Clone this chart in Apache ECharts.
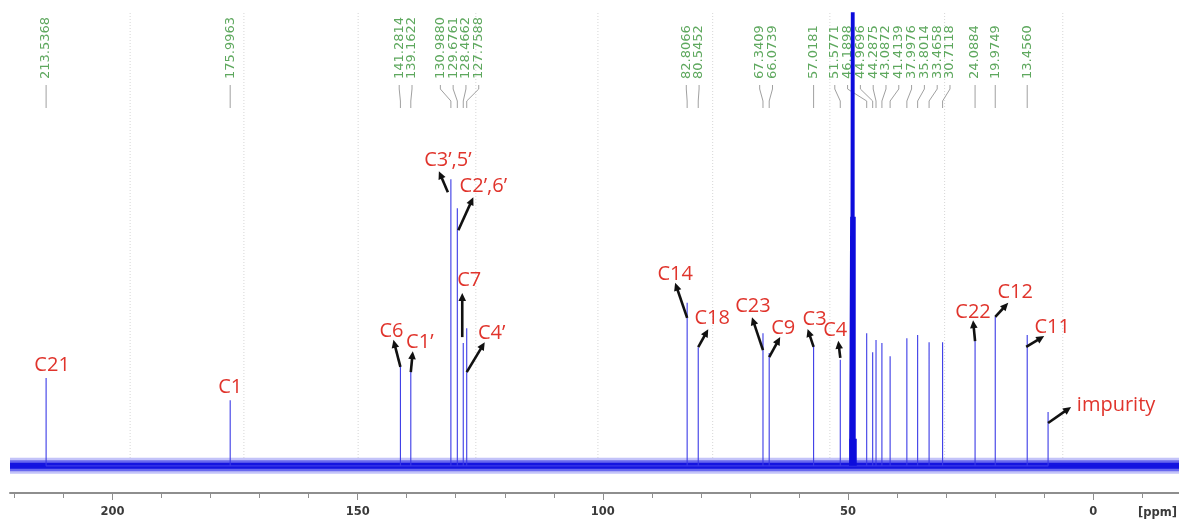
<!DOCTYPE html>
<html><head><meta charset="utf-8">
<script src="https://cdn.jsdelivr.net/npm/echarts@6/dist/echarts.min.js"></script>
<style>html,body{margin:0;padding:0;background:#fff}#c{width:1179px;height:524px}</style>
</head><body><div id="c"></div>
<script>
// ---------------- data ----------------
const peakPpm = [213.5368, 175.9963, 141.2814, 139.1622, 130.9880, 129.6761, 128.4662, 127.7588,
  82.8066, 80.5452, 67.3409, 66.0739, 57.0181, 51.5771, 46.1898, 44.9696, 44.2875, 43.0872,
  41.4139, 37.9976, 35.8014, 33.4658, 30.7118, 24.0884, 19.9749, 13.4560];
const peakHeight = [19.4, 14.5, 22.3, 20.9, 63.3, 56.9, 27.1, 30.4,
  36.0, 26.2, 29.3, 24.9, 26.7, 23.4, 29.3, 25.1, 27.8, 27.1,
  24.2, 28.2, 28.9, 27.3, 27.3, 28.2, 32.9, 28.9];
const impurityPpm = [9.2];
const impurityHeight = [11.9];
const solventPpm = [49.64, 49.43, 49.21, 49.00, 48.79, 48.57, 48.36];
const solventHeight = [6, 55, 150, 150, 150, 55, 6];
const annotationText = ['C21', 'C1', 'C6', 'C1’', 'C3’,5’', 'C2’,6’', 'C7', 'C4’', 'C14', 'C18',
  'C23', 'C9', 'C3', 'C4', 'C22', 'C12', 'C11', 'impurity'];
const annotationPpm = [213.5368, 175.9963, 141.2814, 139.1622, 130.9880, 129.6761, 128.4662, 127.7588,
  82.8066, 80.5452, 67.3409, 66.0739, 57.0181, 51.5771, 24.0884, 19.9749, 13.4560, 9.2];
const majorTicks = [200, 150, 100, 50, 0];
const minorTicks = [220, 210, 190, 180, 170, 160, 140, 130, 120, 110, 90, 80, 70, 60, 40, 30, 20, 10, -10];
const gridPpm = [196.4, 173.2, 149.9, 125.9, 101.0, 77.6, 53.7, 30.3, 6.2];
const xRange = [-17.5, 220.9];
const yRange = [-6, 100];

// ---------------- layout ----------------
const GRID = {left: 10, right: 0, top: 13, bottom: 31};
const W = 1179;
const pxPerPpm = (W - GRID.left - GRID.right) / (xRange[1] - xRange[0]);
const LABEL_GAP = 12.8;
// [textDx, textDy, tailDx, tailDy, headDx, headDy] relative to the peak top (px)
const annotationLayout = [
  [6, -13], [0, -13],
  [-9, -34, 0, 2, -7, -25],
  [9, -29, 0, 1, 2, -20],
  [-3, -19, -3, 13, -12, -8],
  [26, -22, 1, 22, 16, -11],
  [6, -63, -1, -6, -1, -50],
  [25, 5, 0, 44, 18, 14],
  [-12, -29, 0, 15, -12, -20],
  [14, -29, 0, 0, 10, -18],
  [-10, -27, 0, 17, -11, -16],
  [14, -25, 0, 4, 11, -16],
  [1, -26, 0, 2, -6, -16],
  [-5, -30, 0, -2, -2, -19],
  [-2, -26, 0, 3, -2, -18],
  [20, -25, 0, 0, 13, -14],
  [25, -8, -1, 12, 17, 1],
  [68, -7, 0, 11, 23, -5]
];

// spread peak labels so they do not overlap (clusters centred on their peaks)
function spreadLabels(ppms) {
  const xs = ppms.map(p => (xRange[1] - p) * pxPerPpm);
  let cl = xs.map((x, i) => ({first: i, n: 1, sum: x}));
  let changed = true;
  while (changed) {
    changed = false;
    for (let i = 0; i < cl.length - 1; i++) {
      const a = cl[i], b = cl[i + 1];
      const aEnd = a.sum / a.n + LABEL_GAP * (a.n - 1) / 2;
      const bStart = b.sum / b.n - LABEL_GAP * (b.n - 1) / 2;
      if (bStart - aEnd < LABEL_GAP) {
        cl.splice(i, 2, {first: a.first, n: a.n + b.n, sum: a.sum + b.sum});
        changed = true; break;
      }
    }
  }
  const out = [];
  cl.forEach(c => {
    const centre = c.sum / c.n;
    for (let k = 0; k < c.n; k++) {
      const x = centre + LABEL_GAP * (k - (c.n - 1) / 2);
      out.push(xRange[1] - x / pxPerPpm);
    }
  });
  return out;
}
const labelPpm = spreadLabels(peakPpm);

function heightAt(p) {
  let i = peakPpm.indexOf(p);
  if (i >= 0) return peakHeight[i];
  i = impurityPpm.indexOf(p);
  return impurityHeight[i];
}

const stickData = [];
peakPpm.concat(impurityPpm).forEach((p, i) => {
  const h = i < peakPpm.length ? peakHeight[i] : impurityHeight[i - peakPpm.length];
  stickData.push([p, 0], [p, h], [p, 0]);
});
const solventData = [];
solventPpm.forEach((p, i) => solventData.push([p, 0], [p, solventHeight[i]], [p, 0]));

const axisFont = {fontFamily: 'DejaVu Sans', fontSize: 11.5, fontWeight: 'bold', color: '#3a3a3a'};

const chart = echarts.init(document.getElementById('c'), null, {renderer: 'canvas'});
chart.setOption({
  animation: false,
  backgroundColor: '#ffffff',
  grid: [
    {left: GRID.left, right: GRID.right, top: GRID.top, bottom: GRID.bottom},
    {left: GRID.left, right: GRID.right, top: GRID.top, bottom: GRID.bottom}
  ],
  xAxis: [
    {
      type: 'value', gridIndex: 0, inverse: true, min: xRange[0], max: xRange[1],
      axisLine: {show: true, onZero: false, lineStyle: {color: '#8e8e8e', width: 2}},
      axisTick: {show: true, customValues: minorTicks, length: 5, lineStyle: {color: '#8e8e8e', width: 1}},
      axisLabel: {show: false},
      splitLine: {show: false}
    },
    {
      type: 'value', gridIndex: 1, inverse: true, min: xRange[0], max: xRange[1],
      axisLine: {show: false, onZero: false},
      axisTick: {show: true, customValues: majorTicks, length: 7, lineStyle: {color: '#8e8e8e', width: 1}},
      axisLabel: Object.assign({show: true, customValues: majorTicks, margin: 13}, axisFont),
      splitLine: {show: false}
    }
  ],
  yAxis: [
    {type: 'value', gridIndex: 0, min: yRange[0], max: yRange[1], show: false},
    {type: 'value', gridIndex: 1, min: yRange[0], max: yRange[1], show: false}
  ],
  graphic: [{
    type: 'text', left: 1138, top: 507,
    style: {text: '[ppm]', font: 'bold 11.5px "DejaVu Sans"', fill: '#3a3a3a'}
  }],
  series: [
    {
      // dotted vertical grid lines
      type: 'custom', z: 1, silent: true,
      data: gridPpm.map(p => [p, 0]),
      renderItem: (params, api) => {
        const b = api.coord([api.value(0), 0]);
        return {type: 'line', shape: {x1: b[0], y1: params.coordSys.y, x2: b[0], y2: b[1] - 8},
          style: {stroke: '#d6d6d6', lineWidth: 1, lineDash: [1, 2]}};
      }
    },
    {
      // green peak-position labels with connectors
      type: 'custom', z: 2, silent: true,
      data: peakPpm.map((p, i) => [p, 0, i]),
      renderItem: (params, api) => {
        const i = api.value(2);
        const top = params.coordSys.y;
        const px = api.coord([peakPpm[i], 0])[0];
        const lx = api.coord([labelPpm[i], 0])[0];
        return {
          type: 'group',
          children: [
            {type: 'text', x: lx, y: top + 66, rotation: Math.PI / 2,
              style: {text: peakPpm[i].toFixed(4), x: 0, y: 0, align: 'left', verticalAlign: 'middle',
                fill: '#5ea85e', font: '13px "DejaVu Sans"'}},
            {type: 'polyline', shape: {points: [[lx, top + 72], [lx, top + 76], [px, top + 88], [px, top + 95]]},
              style: {stroke: '#a0a0a0', lineWidth: 1, fill: null}}
          ]
        };
      }
    },
    {
      type: 'line', z: 3, silent: true, showSymbol: false,
      data: [[xRange[1], 0], [xRange[0], 0]],
      lineStyle: {color: 'rgba(40,40,235,0.28)', width: 16}
    },
    {
      type: 'line', z: 3, silent: true, showSymbol: false,
      data: [[xRange[1], 0], [xRange[0], 0]],
      lineStyle: {color: 'rgba(30,30,230,0.55)', width: 11}
    },
    {
      type: 'line', z: 3, silent: true, showSymbol: false,
      data: [[xRange[1], 0], [xRange[0], 0]],
      lineStyle: {color: '#1414e0', width: 6}
    },
    {
      type: 'line', z: 4, silent: true, showSymbol: false,
      data: stickData,
      lineStyle: {color: '#3a3ae6', width: 1.1}
    },
    {
      type: 'line', z: 4, silent: true, showSymbol: false,
      data: solventData,
      lineStyle: {color: '#0c0cdc', width: 1.4}
    },
    {
      // red assignments with black arrows
      type: 'custom', z: 5, silent: true,
      data: annotationPpm.map((p, i) => [p, heightAt(p), i]),
      renderItem: (params, api) => {
        const i = api.value(2);
        const t = api.coord([api.value(0), api.value(1)]);
        const L = annotationLayout[i];
        const children = [{
          type: 'text', x: t[0] + L[0], y: t[1] + L[1],
          style: {text: annotationText[i], x: 0, y: 0, align: 'center', verticalAlign: 'middle',
            fill: '#e0342c', font: '20px "Open Sans"'}
        }];
        if (L.length > 2) {
          const x1 = t[0] + L[2], y1 = t[1] + L[3], x2 = t[0] + L[4], y2 = t[1] + L[5];
          const dx = x2 - x1, dy = y2 - y1, len = Math.hypot(dx, dy);
          const ux = dx / len, uy = dy / len, nx = -uy, ny = ux;
          const hl = 8, hw = 3.8;
          const bx = x2 - ux * hl, by = y2 - uy * hl;
          children.push({type: 'line', shape: {x1: x1, y1: y1, x2: bx + ux * 2, y2: by + uy * 2},
            style: {stroke: '#111', lineWidth: 2.6}});
          children.push({type: 'polygon', shape: {points: [[x2, y2], [bx + nx * hw, by + ny * hw], [bx - nx * hw, by - ny * hw]]},
            style: {fill: '#111'}});
        }
        return {type: 'group', children: children};
      }
    }
  ]
});
</script>
</body></html>
